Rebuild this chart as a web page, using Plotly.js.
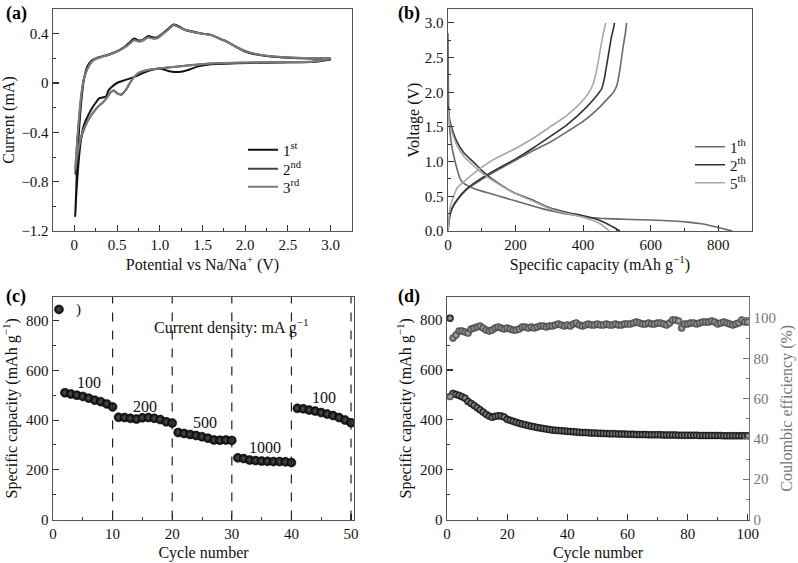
<!DOCTYPE html>
<html>
<head>
<meta charset="utf-8">
<script src="https://cdn.plot.ly/plotly-3.0.1.min.js"></script>
<style>html,body{margin:0;padding:0;background:#fff;}#chart{width:798px;height:563px;}</style>
</head>
<body>
<div id="chart"></div>
<script>
// ---------- (a) Cyclic voltammetry ----------
const cvNames = ['1<sup>st</sup>', '2<sup>nd</sup>', '3<sup>rd</sup>'];
const cv1V = [3.0,2.8,2.5,2.2,1.9,1.6,1.45,1.35,1.25,1.18,1.1,1.0,0.9,0.8,0.7,0.6,0.5,0.45,0.4,0.37,0.33,0.29,0.25,0.21,0.17,0.13,0.1,0.07,0.045,0.025,0.01,
  0.02,0.035,0.055,0.08,0.11,0.15,0.2,0.25,0.32,0.42,0.52,0.6,0.65,0.7,0.75,0.8,0.86,0.92,0.97,1.03,1.1,1.16,1.22,1.3,1.4,1.5,1.6,1.7,1.8,1.9,2.0,2.1,2.25,2.45,2.7,2.9,3.0];
const cv1I = [0.19,0.172,0.168,0.165,0.16,0.152,0.135,0.11,0.092,0.09,0.098,0.118,0.105,0.08,0.05,0.025,0.0,-0.025,-0.06,-0.11,-0.118,-0.125,-0.16,-0.2,-0.25,-0.31,-0.37,-0.5,-0.68,-0.88,-1.08,
  -0.9,-0.62,-0.38,-0.16,0.02,0.13,0.18,0.2,0.215,0.235,0.265,0.3,0.33,0.36,0.345,0.35,0.38,0.37,0.37,0.4,0.44,0.475,0.46,0.43,0.415,0.4,0.39,0.36,0.33,0.29,0.255,0.235,0.218,0.207,0.2,0.198,0.198];
const cv2V = [3.0,2.8,2.5,2.0,1.6,1.3,1.1,1.0,0.9,0.8,0.75,0.7,0.65,0.6,0.55,0.5,0.46,0.42,0.38,0.33,0.28,0.23,0.18,0.14,0.1,0.07,0.045,0.025,0.01,
  0.02,0.035,0.055,0.08,0.11,0.15,0.2,0.25,0.32,0.42,0.52,0.6,0.65,0.7,0.75,0.8,0.86,0.92,0.97,1.03,1.1,1.16,1.22,1.3,1.4,1.5,1.6,1.7,1.8,1.9,2.0,2.1,2.25,2.45,2.7,2.9,3.0];
const cv2I = [0.195,0.172,0.168,0.165,0.158,0.14,0.125,0.118,0.11,0.095,0.08,0.05,0.0,-0.06,-0.095,-0.085,-0.06,-0.08,-0.12,-0.16,-0.19,-0.23,-0.28,-0.33,-0.4,-0.47,-0.56,-0.65,-0.74,
  -0.62,-0.46,-0.29,-0.11,0.03,0.11,0.17,0.195,0.212,0.232,0.262,0.295,0.322,0.35,0.338,0.345,0.37,0.362,0.365,0.395,0.435,0.47,0.455,0.43,0.412,0.4,0.388,0.36,0.33,0.29,0.258,0.237,0.22,0.208,0.201,0.199,0.199];
const cv3V = cv2V;
const cv3I = [0.2,0.174,0.17,0.166,0.158,0.14,0.126,0.119,0.111,0.096,0.08,0.05,0.0,-0.058,-0.09,-0.082,-0.058,-0.078,-0.12,-0.16,-0.19,-0.23,-0.28,-0.33,-0.39,-0.46,-0.54,-0.62,-0.70,
  -0.6,-0.45,-0.28,-0.1,0.03,0.11,0.17,0.195,0.212,0.232,0.262,0.293,0.32,0.347,0.336,0.343,0.368,0.36,0.363,0.393,0.433,0.468,0.454,0.43,0.412,0.4,0.388,0.36,0.33,0.292,0.26,0.24,0.222,0.21,0.203,0.2,0.2];
const cvTickVals = [0,0.5,1.0,1.5,2.0,2.5,3.0];
const cvTickText = ['0','0.5','1.0','1.5','2.0','2.5','3.0'];

// ---------- (b) Charge/discharge profiles ----------
const gcNames = ['1<sup>th</sup>', '2<sup>th</sup>', '5<sup>th</sup>'];
const gc1DisCap = [0,0.5,1,2,4,7,12,17,27,36,46,60,76,100,125,174,223,273,322,371,420,470,520,568,620,666,710,745,775,800,825,842];
const gc1DisV   = [2.85,2.5,2.1,1.76,1.55,1.37,1.2,1.085,0.89,0.75,0.69,0.65,0.613,0.575,0.54,0.47,0.40,0.33,0.275,0.23,0.195,0.178,0.17,0.163,0.155,0.145,0.128,0.107,0.08,0.05,0.02,0.0];
const gc1ChCap = [0,3,7,15,27,56,105,155,204,253,302,352,400,450,479,490,500,508,514,520,525,529];
const gc1ChV   = [0,0.15,0.25,0.35,0.44,0.6,0.76,0.9,1.03,1.16,1.28,1.43,1.58,1.79,1.94,2.0,2.1,2.3,2.5,2.7,2.85,3.0];
const gc2DisCap = [0,2,5,12,27,46,76,105,145,194,243,302,350,400,440,465,489,509];
const gc2DisV   = [1.8,1.71,1.6,1.47,1.28,1.13,0.99,0.85,0.70,0.556,0.46,0.33,0.27,0.22,0.17,0.12,0.058,0.0];
const gc2ChCap = [0,3,7,15,27,56,105,155,204,253,302,352,411,440,455,463,470,477,484,489,493];
const gc2ChV   = [0,0.15,0.26,0.36,0.45,0.61,0.78,0.92,1.05,1.2,1.36,1.53,1.79,1.95,2.05,2.2,2.4,2.6,2.8,2.9,3.0];
const gc5DisCap = [0,2,5,12,27,46,76,105,145,194,243,302,350,400,430,455,478];
const gc5DisV   = [1.75,1.68,1.55,1.42,1.23,1.08,0.94,0.82,0.69,0.55,0.45,0.32,0.255,0.2,0.15,0.09,0.0];
const gc5ChCap = [0,3,7,15,27,56,95,125,155,204,253,302,350,391,415,428,437,445,452,460,467];
const gc5ChV   = [0,0.2,0.35,0.48,0.62,0.75,0.9,1.0,1.08,1.2,1.34,1.5,1.66,1.84,1.98,2.1,2.25,2.45,2.65,2.85,3.0];

// ---------- (c) Rate capability ----------
const rateCycles = Array.from({length:50},(_,i)=>i+1);
const rateCap = [845,510,505,500,495,488,480,474,465,453,
  411,410,407,404,409,410,407,402,393,388,
  350,346,342,338,333,327,320,319,320,318,
  248,245,239,237,235,234,233,233,232,229,
  447,445,440,436,430,424,418,410,400,389];
const rateBoundaries = [10,20,30,40,50];
const rateLabels = ['100','200','500','1000','100'];
const rateNote = 'Current density: mA g<sup>−1</sup>';

// ---------- (d) Cycling ----------
const cycCycles = Array.from({length:100},(_,i)=>i+1);
const cycCap = [808,506,502,498,493,487,474,466,458,449,
  440,431,422,415,410,414,416,415,411,402,
  398,394,390,386,383,380,377,374,372,369,
  367,365,363,361,359,358,357,356,355,354,
  353,352,351,350,349,349,348,347,347,346,
  346,345,345,344,344,344,343,343,343,342,
  342,342,341,341,341,341,340,340,340,340,
  340,339,339,339,339,339,338,338,338,338,
  338,338,338,337,337,337,337,337,337,337,
  337,336,336,336,336,336,336,336,336,336];
const cycCE = [61,90,91.5,93.5,93.5,93,92.5,94.5,95,95.5,
  96,95,94,93.5,94,95,95.5,95,94.5,95,
  94.5,94,94,94.5,95.5,95.5,95,95.5,95,95.5,
  96,96,95.5,96,96,96.5,97,96.5,96,96.5,
  96,97,97.5,96.5,96,96.5,97,96.5,96.5,97,
  96.5,96.5,97,96.5,96.5,97,96.5,96.5,97,97,
  97,97.5,98,97.5,97,97,97.5,97,97,97.5,
  97.5,97,96.5,97.5,99,99,98.5,95,97,97,
  97.5,97.5,97,97.5,98,98,98,98.5,98,97,
  97.5,98,97.5,97,96.5,97,97.5,99,98,98];

// ---------- font: pick the first serif face the browser really has ----------
function pickSerif() {
  const cands = ['Liberation Serif','DejaVu Serif','Noto Serif','Times New Roman','Tinos','FreeSerif','Nimbus Roman'];
  const c = document.createElement('canvas').getContext('2d');
  const s = 'Cycle number 0123456789 mAh';
  for (const base of ['monospace','sans-serif']) {
    c.font = '40px ' + base; const w0 = c.measureText(s).width;
    for (const f of cands) {
      c.font = '40px "' + f + '", ' + base;
      if (Math.abs(c.measureText(s).width - w0) > 0.5) return '"' + f + '", serif';
    }
  }
  return 'serif';
}
const W = 798, H = 563;
const FONT = pickSerif();
const TXT = '#111';
const px = v => v / W;
const py = v => 1 - v / H;
function ax(extra) {
  return Object.assign({
    showline: true, mirror: true, linecolor: '#555', linewidth: 1.4,
    ticks: 'inside', ticklen: 6, tickwidth: 1.1, tickcolor: '#333',
    showgrid: false, zeroline: false, automargin: false,
    tickfont: {family: FONT, size: 15, color: TXT},
    minor: {ticks: 'inside', ticklen: 3, tickwidth: 1, tickcolor: '#333'}
  }, extra);
}
function ttl(t, so) { return {text: t, standoff: so, font: {family: FONT, size: 16, color: TXT}}; }

const traces = [];
const cvColors = ['#111', '#444', '#7a7a7a'];
[[cv1V,cv1I],[cv2V,cv2I],[cv3V,cv3I]].forEach((d,i)=>{
  traces.push({x: d[0], y: d[1], xaxis:'x', yaxis:'y', type:'scatter', mode:'lines',
    line:{color: cvColors[i], width: 2, shape:'spline', smoothing: 0.8},
    name: cvNames[i], legend: i === 0 ? 'legend' : 'legend' + (i + 1)});
});
const gcColors = ['#6a6a6a', '#333', '#a8a8a8'];
[[gc1DisCap,gc1DisV,gc1ChCap,gc1ChV],[gc2DisCap,gc2DisV,gc2ChCap,gc2ChV],[gc5DisCap,gc5DisV,gc5ChCap,gc5ChV]].forEach((d,i)=>{
  traces.push({x: d[0].concat([null], d[2]), y: d[1].concat([null], d[3]), xaxis:'x2', yaxis:'y2', type:'scatter', mode:'lines',
    connectgaps:false, line:{color: gcColors[i], width: 1.6, shape:'spline', smoothing: 0.6},
    name: gcNames[i], legend: 'legend' + (i + 4)});
});
traces.push({x: rateCycles, y: rateCap, xaxis:'x3', yaxis:'y3', type:'scatter', mode:'markers', showlegend:false,
  marker:{size: 9, color:'#050505', gradient:{type:'radial', color:'#555'}, line:{width:0.5, color:'#000'}}});
traces.push({x: cycCycles, y: cycCE, xaxis:'x4', yaxis:'y5', type:'scatter', mode:'markers', showlegend:false,
  marker:{size: 7, color:'#4a4a4a', gradient:{type:'radial', color:'#bdbdbd'}, line:{width:0.6, color:'#4a4a4a'}}});
traces.push({x: cycCycles, y: cycCap, xaxis:'x4', yaxis:'y4', type:'scatter', mode:'markers', showlegend:false,
  marker:{size: 7, color:'#111', gradient:{type:'radial', color:'#c4c4c4'}, line:{width:0.6, color:'#111'}}});

// shapes and annotations from data
const shapes = rateBoundaries.map(b => ({type:'line', xref:'x3', yref:'y3 domain', x0:b, x1:b, y0:0, y1:1,
  line:{color:'#222', width:1.2, dash:'dash'}}));
const annotations = [];
let start = 0;
rateBoundaries.forEach((b,i)=>{
  const seg = rateCap.slice(Math.max(start,1), b);
  const cyc = rateCycles.slice(Math.max(start,1), b);
  const xc = (cyc[0] + cyc[cyc.length-1]) / 2;
  annotations.push({xref:'x3', yref:'y3', x: xc, y: Math.max(...seg) + 42, text: rateLabels[i], showarrow:false,
    font:{family: FONT, size: 16, color: TXT}});
  start = b;
});
annotations.push({xref:'x3', yref:'y3', x: 30, y: 776, text: rateNote, showarrow:false, font:{family: FONT, size: 16, color: TXT}});
annotations.push({xref:'x3', yref:'y3', x: 4.3, y: 843, text: ')', showarrow:false, font:{family: FONT, size: 15, color: TXT}});
[['(a)',4,14],['(b)',396,14],['(c)',4,296],['(d)',396,296]].forEach(p=>{
  annotations.push({xref:'paper', yref:'paper', x: px(p[1]), y: py(p[2]), xanchor:'left', yanchor:'middle', text:'<b>'+p[0]+'</b>',
    showarrow:false, font:{family: FONT, size: 18, color:'#000'}});
});

const minorOf = (d, c) => ({ticks:'inside', ticklen:3, tickwidth:1, tickcolor: c || '#333', dtick: d});
const layout = {
  width: W, height: H, margin:{l:0, r:0, t:0, b:0}, paper_bgcolor:'#fff', plot_bgcolor:'#fff',
  font:{family: FONT, color: TXT},
  xaxis:  ax({domain:[px(53), px(352)], range:[-0.25,3.25], anchor:'y', tickvals: cvTickVals, ticktext: cvTickText,
           minor: minorOf(0.25), title: ttl('Potential vs Na/Na<sup>+</sup> (V)', 6)}),
  yaxis:  ax({domain:[py(231), py(9)], range:[-1.2,0.6], anchor:'x', dtick:0.4, tick0:0,
           minor: minorOf(0.2), title: ttl('Current (mA)', 6)}),
  xaxis2: ax({domain:[px(448), px(752)], range:[0,900], anchor:'y2', dtick:200,
           minor: minorOf(100), title: ttl('Specific capacity (mAh g<sup>−1</sup>)', 6)}),
  yaxis2: ax({domain:[py(231), py(9)], range:[0,3.2], anchor:'x2', dtick:0.5, tickformat:'.1f',
           minor: minorOf(0.25), title: ttl('Voltage (V)', 1)}),
  xaxis3: ax({domain:[px(53), px(354)], range:[0,50.5], anchor:'y3', dtick:10,
           minor: minorOf(5), title: ttl('Cycle number', 6)}),
  yaxis3: ax({domain:[py(519.5), py(297)], range:[0,895], anchor:'x3', dtick:200,
           minor: minorOf(100), title: ttl('Specific capacity (mAh g<sup>−1</sup>)', 6)}),
  xaxis4: ax({domain:[px(447), px(749)], range:[0,100.4], anchor:'y4', dtick:20,
           minor: minorOf(10), title: ttl('Cycle number', 6)}),
  yaxis4: ax({domain:[py(519.5), py(297)], range:[0,893], anchor:'x4', dtick:200, mirror:false,
           minor: minorOf(100), title: ttl('Specific capacity (mAh g<sup>−1</sup>)', 4)}),
  yaxis5: ax({domain:[py(519.5), py(297)], range:[0,110.4], anchor:'x4', overlaying:'y4', side:'right', dtick:20, mirror:false,
           linecolor:'#777', tickcolor:'#777', tickfont:{family: FONT, size:15, color:'#777'},
           minor: minorOf(10, '#777'),
           title:{text:'Coulombic efficiency (%)', standoff: 6, font:{family: FONT, size:16, color:'#777'}}}),
  shapes: shapes,
  annotations: annotations,
  showlegend: true
};
const legendRows = [[243,150],[243,169],[243,187],[690,147],[690,165],[690,183]];
legendRows.forEach((r,i)=>{
  layout[i === 0 ? 'legend' : 'legend' + (i + 1)] = {x: px(r[0]), y: py(r[1]), xanchor:'left', yanchor:'middle',
    bgcolor:'rgba(0,0,0,0)', itemwidth:30, font:{family: FONT, size:15, color: TXT}};
});
Plotly.newPlot('chart', traces, layout, {displayModeBar:false, staticPlot:true});
</script>
</body>
</html>
